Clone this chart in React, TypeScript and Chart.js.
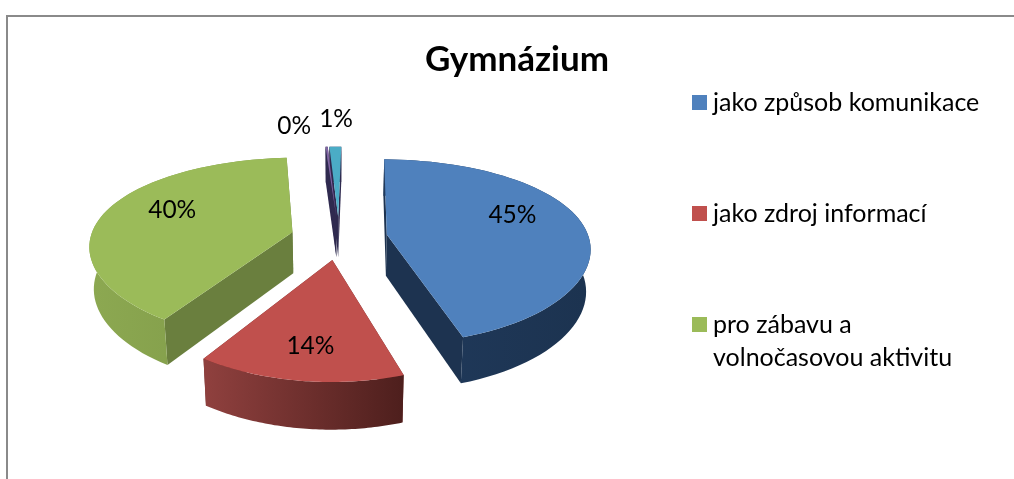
import React, { useEffect, useRef } from "react";
import { Chart, registerables } from "chart.js";

Chart.register(...registerables);

const categories = [
  "jako způsob komunikace",
  "jako zdroj informací",
  "pro zábavu a volnočasovou aktivitu",
  "jiné",
  "ostatní",
];
const values = [45, 14, 40, 0.2, 1.1];
const legendLines = [
  ["jako způsob komunikace"],
  ["jako zdroj informací"],
  ["pro zábavu a", "volnočasovou aktivitu"],
];
const chartTitle = "Gymnázium";

const FONT = "Lato, Carlito, sans-serif";
const COLORS = ["#4F81BD", "#C0504D", "#9BBB59", "#8064A2", "#4BACC6"];
const CUT_WALL = ["#1D3350", "#6E2C2A", "#6A7F3E", "#2F2A4F", "#2F2A4F"];
const WALL_L = ["#203A5C", "#8F403E", "#8CA851", "#2F2A4F", "#2F2A4F"];
const WALL_R = ["#1C3350", "#4E1F1D", "#7C9746", "#2F2A4F", "#2F2A4F"];
const LABEL_NUDGE: [number, number][] = [[-15, -10], [1, 5], [15, -7], [-35, -38], [0, -45]];

const EXPLODE = 24;
const RX = 202;
const RY = 90;
const PERSP_X = 0.135;
const PERSP_Y = 0.185;
const SHIFT_X = -178;
const SHIFT_Y = -42.5;

const pie3d = {
  id: "pie3d",
  beforeDraw(chart: any) {
    const { ctx, width, height } = chart;
    ctx.save();
    ctx.fillStyle = "#FFFFFF";
    ctx.fillRect(0, 0, width, height);
    ctx.fillStyle = "#8A8A8A";
    ctx.fillRect(6, 15, width - 6, 2);
    ctx.fillRect(6, 15, 2, height - 15);
    ctx.restore();
  },
  afterDatasetsDraw(chart: any) {
    const { ctx } = chart;
    const arcs = chart.getDatasetMeta(0).data as any[];
    const geoms = arcs.map((el, i) => {
      const cx = el.x + SHIFT_X;
      const cy = el.y + SHIFT_Y;
      const e = el.options.offset / 100;
      const mid = (el.startAngle + el.endAngle) / 2;
      const ou = e * Math.cos(mid);
      const ov = e * Math.sin(mid);
      const P = (r: number, th: number, z: number): [number, number] => {
        const u = ou + r * Math.cos(th);
        const v = ov + r * Math.sin(th);
        const x = cx + ((RX * u) / (1 - PERSP_X * v)) * (1 - 0.018 * z);
        const y = cy + (RY * v) / (1 - PERSP_Y * v) + z * (41.5 + 5 * v);
        return [x, y];
      };
      return { el, i, mid, P, sortKey: ov + Math.sin(mid) };
    });

    const poly = (pts: [number, number][], fill: any) => {
      ctx.beginPath();
      pts.forEach((p, k) => (k ? ctx.lineTo(p[0], p[1]) : ctx.moveTo(p[0], p[1])));
      ctx.closePath();
      ctx.fillStyle = fill;
      ctx.fill();
    };

    const order = [...geoms].sort((a, b) => a.sortKey - b.sortKey);
    order.forEach(({ el, i, P }) => {
      const n = 64;
      const top: [number, number][] = [];
      const bot: [number, number][] = [];
      for (let k = 0; k <= n; k++) {
        const th = el.startAngle + ((el.endAngle - el.startAngle) * k) / n;
        top.push(P(1, th, 0));
        bot.push(P(1, th, 1));
      }
      const a0 = P(0, 0, 0);
      const a1 = P(0, 0, 1);
      poly([a0, top[0], bot[0], a1], CUT_WALL[i]);
      poly([a0, top[n], bot[n], a1], CUT_WALL[i]);
      const xs = bot.map((p) => p[0]);
      const g = ctx.createLinearGradient(Math.min(...xs), 0, Math.max(...xs), 0);
      g.addColorStop(0, WALL_L[i]);
      g.addColorStop(1, WALL_R[i]);
      poly([...top, ...bot.slice().reverse()], g);
      poly([a0, ...top], COLORS[i]);
    });

    ctx.save();
    ctx.fillStyle = "#000000";
    ctx.font = `24.5px ${FONT}`;
    ctx.textAlign = "center";
    ctx.textBaseline = "middle";
    const total = values.reduce((s, v) => s + v, 0);
    geoms.forEach(({ i, mid, P }) => {
      const [x, y] = P(0.72, mid, 0);
      ctx.fillText(`${Math.round((values[i] / total) * 100)}%`, x + LABEL_NUDGE[i][0], y + LABEL_NUDGE[i][1]);
    });

    // legend
    const rows = [95, 206, 317];
    ctx.textAlign = "left";
    ctx.textBaseline = "alphabetic";
    ctx.font = `25px ${FONT}`;
    legendLines.forEach((lines, i) => {
      ctx.fillStyle = COLORS[i];
      ctx.fillRect(692, rows[i], 15, 15);
      ctx.fillStyle = "#000000";
      lines.forEach((line, k) => ctx.fillText(line, 713, rows[i] + 16 + k * 33));
    });
    ctx.restore();
  },
};

export default function App() {
  const ref = useRef<HTMLCanvasElement>(null);
  useEffect(() => {
    document.body.style.margin = "0";
    const chart = new Chart(ref.current as HTMLCanvasElement, {
      type: "pie",
      data: {
        labels: categories,
        datasets: [
          {
            data: values,
            backgroundColor: "rgba(0,0,0,0)",
            borderWidth: 0,
            offset: EXPLODE,
          },
        ],
      },
      options: {
        responsive: false,
        animation: false,
        rotation: 1,
        layout: { padding: { left: 20 } },
        plugins: {
          legend: { display: false },
          tooltip: { enabled: false },
          title: {
            display: true,
            text: chartTitle,
            color: "#000000",
            font: { family: FONT, size: 35, weight: "bold" },
            padding: { top: 39, bottom: 0 },
          },
        },
      },
      plugins: [pie3d],
    } as any);
    return () => chart.destroy();
  }, []);
  return (
    <div style={{ width: 1014, height: 479 }}>
      <canvas ref={ref} width={1014} height={479} style={{ display: "block" }} />
    </div>
  );
}
